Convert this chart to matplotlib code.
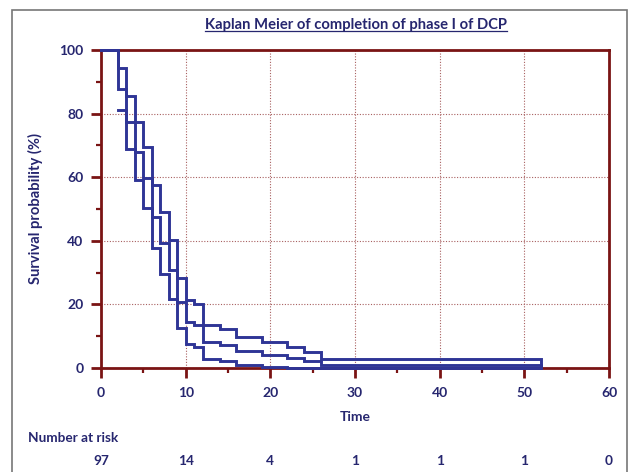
import matplotlib
matplotlib.use("Agg")
import matplotlib.pyplot as plt
import matplotlib.transforms as mtransforms
from matplotlib.lines import Line2D
from matplotlib.patches import Rectangle
from matplotlib.ticker import MultipleLocator

# ---- data ----
times = [0, 2, 3, 4, 5, 6, 7, 8, 9, 10, 11, 12, 14, 16, 19, 22, 24, 26, 52]
survival = [100, 87.6, 77.3, 68.0, 59.8, 47.4, 39.2, 30.9, 20.6, 14.4, 13.4,
            8.2, 7.2, 5.2, 4.1, 3.1, 2.1, 1.0, 1.0]
upper_ci = [100, 94.2, 85.4, 77.3, 69.6, 57.4, 48.9, 40.1, 28.4, 21.4, 20.2,
            13.6, 12.4, 9.6, 8.2, 6.6, 4.9, 2.9, 1.0]
lower_times = [2, 3, 4, 5, 6, 7, 8, 9, 10, 11, 12, 14, 16, 19, 22, 24, 26, 52]
lower_ci = [81.1, 69.0, 59.0, 50.2, 37.6, 29.6, 21.7, 12.6, 7.4, 6.6, 2.8,
            2.1, 0.8, 0.2, 0.0, 0.0, 0.0, 0.0]

risk_times = [0, 10, 20, 30, 40, 50, 60]
risk_counts = [97, 14, 4, 1, 1, 1, 0]

title = "Kaplan Meier of completion of phase I of DCP"
xlabel = "Time"
ylabel = "Survival probability (%)"
risk_label = "Number at risk"

# ---- style ----
W, H = 629, 472
DPI = 100
line_col = "#2f3596"
text_col = "#26266f"
axis_col = "#7a1414"
grid_col = "#a86060"
FONT = ["Lato", "DejaVu Sans"]
plt.rcParams["font.family"] = FONT
plt.rcParams["font.weight"] = "bold"

fig = plt.figure(figsize=(W / DPI, H / DPI), dpi=DPI)
ax = fig.add_axes([101 / W, 1 - 368 / H, 508 / W, 318 / H])

for t, y in ((times, survival), (times, upper_ci), (lower_times, lower_ci)):
    ax.step(t, y, where="post", color=line_col, lw=2.1, zorder=5,
            clip_on=False, solid_joinstyle="miter")

ax.set_xlim(0, 60)
ax.set_ylim(0, 100)
ax.xaxis.set_major_locator(MultipleLocator(10))
ax.xaxis.set_minor_locator(MultipleLocator(5))
ax.yaxis.set_major_locator(MultipleLocator(20))
ax.yaxis.set_minor_locator(MultipleLocator(10))

for s in ax.spines.values():
    s.set_color(axis_col)
    s.set_linewidth(2.0)
    s.set_zorder(4)

ax.grid(True, which="major", color=grid_col, lw=0.8, linestyle=(0, (1, 1.5)))
ax.set_axisbelow(True)

ax.tick_params(axis="both", which="major", direction="out", length=7.5,
               width=2.0, color=axis_col, labelcolor=text_col, labelsize=10)
ax.tick_params(axis="both", which="minor", direction="out", length=3.8,
               width=1.6, color=axis_col)
ax.tick_params(axis="x", which="major", pad=6)
ax.tick_params(axis="y", which="major", pad=5)
for lab in ax.get_xticklabels() + ax.get_yticklabels():
    lab.set_fontweight("bold")

ax.set_xlabel(xlabel, color=text_col, fontsize=10, fontweight="bold", labelpad=9)
ax.set_ylabel(ylabel, color=text_col, fontsize=10.6, fontweight="bold", labelpad=12)

ttl = fig.text(356 / W, 1 - 25 / H, title, ha="center", va="center",
               color=text_col, fontsize=10.6, fontweight="bold")

fig.text(28 / W, 1 - 438 / H, risk_label, ha="left", va="center",
         color=text_col, fontsize=9.8, fontweight="bold")
trans = mtransforms.blended_transform_factory(ax.transData, fig.transFigure)
for t, n in zip(risk_times, risk_counts):
    ax.text(t, 1 - 461 / H, str(n), transform=trans, ha="center", va="center",
            color=text_col, fontsize=9.8, fontweight="bold", clip_on=False)

# outer frame
fig.add_artist(Rectangle((12 / W, -0.05), 615 / W, 1.05 - 10 / H,
                         transform=fig.transFigure, fill=False,
                         edgecolor="#777777", lw=1.2))

# underline title
fig.canvas.draw()
bb = ttl.get_window_extent()
uy = (bb.y0 + 1) / H
fig.add_artist(Line2D([bb.x0 / W, bb.x1 / W], [uy, uy], transform=fig.transFigure,
                      color=text_col, lw=0.9))

fig.savefig("out.png", dpi=DPI)
